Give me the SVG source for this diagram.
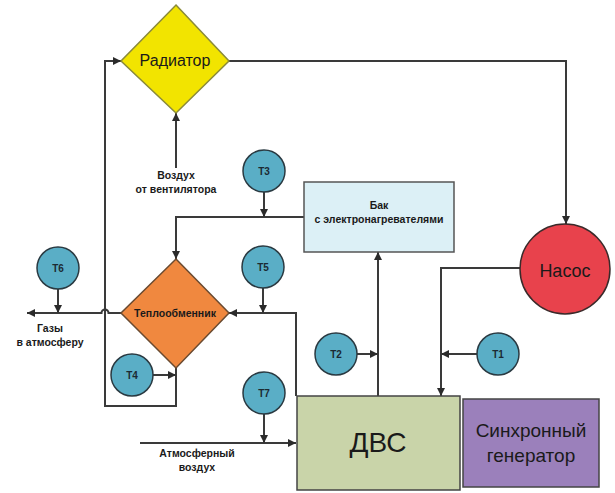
<svg xmlns="http://www.w3.org/2000/svg" width="615" height="493" viewBox="0 0 615 493">
  <defs>
    <marker id="arr" viewBox="0 0 10 10" refX="10" refY="5" markerWidth="8" markerHeight="8" markerUnits="userSpaceOnUse" orient="auto">
      <path d="M0,0 L10,5 L0,10 z" fill="#2b2b2b"/>
    </marker>
    <style>
      .ln { fill: none; stroke: #3a3a3a; stroke-width: 2; }
      .ar { marker-end: url(#arr); }
      .sensor circle { fill: #5aaec6; stroke: #2a3a42; stroke-width: 1.5; }
      .sensor text { font-family: "Liberation Sans", Arial, sans-serif; font-weight: bold; font-size: 10px; fill: #1c2a33; text-anchor: middle; }
      .lbl { font-family: "Liberation Sans", Arial, sans-serif; font-weight: bold; font-size: 10.5px; fill: #1a1a1a; text-anchor: middle; }
      .big { font-family: "Liberation Sans", Arial, sans-serif; fill: #1a1a1a; text-anchor: middle; }
    </style>
  </defs>
  <rect width="615" height="493" fill="#ffffff"/>

  <!-- flow lines -->
  <g id="connectors">
    <path class="ln ar" d="M228,61 H566 V224"/>
    <path class="ln ar" d="M520,268 H441 V396"/>
    <path class="ln ar" d="M378,396 V252"/>
    <path class="ln ar" d="M304,217 H176 V259"/>
    <path class="ln ar" d="M296,396 V313 H229"/>
    <path class="ln ar" d="M176,368 V406 H105 V61 H121"/>
    <path class="ln ar" d="M121,313 H108.5 A3.5,3.5 0 0 0 101.5,313 H27"/>
    <path class="ln ar" d="M176,168 V113"/>
    <path class="ln ar" d="M140,443 H296"/>
    <!-- sensor taps -->
    <path class="ln ar" d="M477,354 H441"/>
    <path class="ln ar" d="M357,354 H378"/>
    <path class="ln ar" d="M264,192 V217"/>
    <path class="ln ar" d="M153,375 H176"/>
    <path class="ln ar" d="M263,288 V313"/>
    <path class="ln ar" d="M58,289 V313"/>
    <path class="ln ar" d="M264,414 V443"/>
  </g>

  <g id="radiator">
    <polygon points="176,5 229,61 176,113 121,61" fill="#f2e400" stroke="#8a8a3a" stroke-width="1.5"/>
    <text class="big" x="175" y="66" font-size="16">Радиатор</text>
  </g>

  <g id="heat-exchanger">
    <polygon points="176,259 229,313 176,368 121,313" fill="#f0883f" stroke="#6a4a30" stroke-width="1.5"/>
    <text class="lbl" x="175" y="317" font-size="11.5">Теплообменник</text>
  </g>

  <g id="tank">
    <rect x="304" y="182" width="150" height="70" fill="#dcf0f6" stroke="#555" stroke-width="1.5"/>
    <text class="lbl" x="379" y="209">Бак</text>
    <text class="lbl" x="379" y="223">с электронагревателями</text>
  </g>

  <g id="pump">
    <circle cx="565" cy="269" r="45" fill="#e8424c" stroke="#3a2a2a" stroke-width="1.5"/>
    <text class="big" x="565" y="277" font-size="18">Насос</text>
  </g>

  <g id="engine">
    <rect x="297" y="396" width="163" height="94" fill="#c9d4a9" stroke="#444" stroke-width="1.5"/>
    <text class="big" x="378" y="452" font-size="28">ДВС</text>
  </g>

  <g id="generator">
    <rect x="463" y="399" width="136" height="88" fill="#9b80bb" stroke="#444" stroke-width="1.5"/>
    <text class="big" x="531" y="437" font-size="19">Синхронный</text>
    <text class="big" x="531" y="462" font-size="19">генератор</text>
  </g>

  <g id="fan-air">
    <text class="lbl" x="176" y="179">Воздух</text>
    <text class="lbl" x="176" y="193">от вентилятора</text>
  </g>

  <g id="exhaust">
    <text class="lbl" x="50" y="332">Газы</text>
    <text class="lbl" x="50" y="346">в атмосферу</text>
  </g>

  <g id="intake-air">
    <text class="lbl" x="197" y="457">Атмосферный</text>
    <text class="lbl" x="197" y="471">воздух</text>
  </g>

  <g id="T1" class="sensor"><circle cx="498" cy="354" r="21"/><text x="498" y="358">Т1</text></g>
  <g id="T2" class="sensor"><circle cx="336" cy="354" r="21"/><text x="336" y="358">Т2</text></g>
  <g id="T3" class="sensor"><circle cx="264" cy="171" r="21"/><text x="264" y="175">Т3</text></g>
  <g id="T4" class="sensor"><circle cx="132" cy="375" r="21"/><text x="132" y="379">Т4</text></g>
  <g id="T5" class="sensor"><circle cx="263" cy="267" r="21"/><text x="263" y="271">Т5</text></g>
  <g id="T6" class="sensor"><circle cx="58" cy="268" r="21"/><text x="58" y="272">Т6</text></g>
  <g id="T7" class="sensor"><circle cx="264" cy="393" r="21"/><text x="264" y="397">Т7</text></g>
</svg>
